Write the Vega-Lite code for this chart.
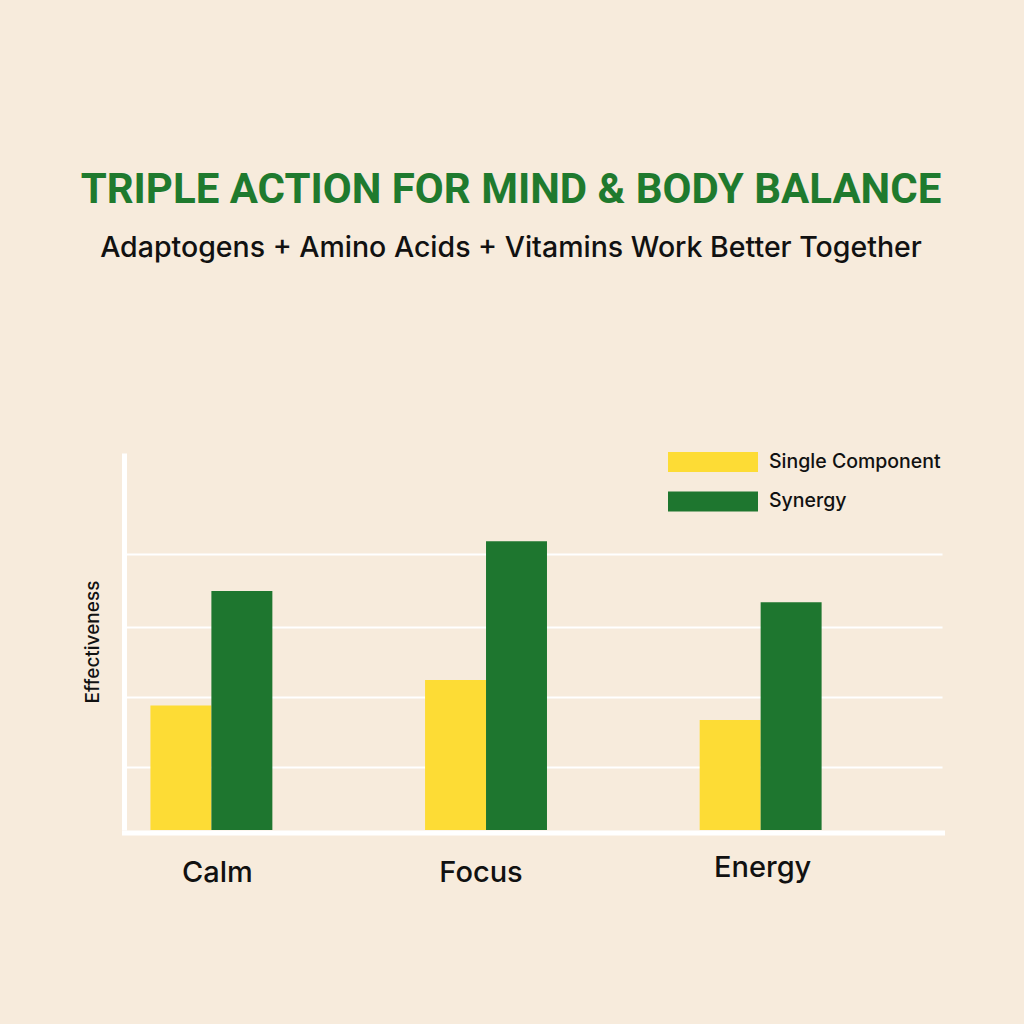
{
  "$schema": "https://vega.github.io/schema/vega-lite/v6.json",
  "width": 818,
  "height": 377,
  "autosize": {"type": "none"},
  "padding": {"left": 124, "top": 453, "right": 82, "bottom": 194},
  "background": "#F7EBDC",
  "title": {
    "text": "TRIPLE ACTION FOR MIND & BODY BALANCE",
    "subtitle": "Adaptogens + Amino Acids + Vitamins Work Better Together",
    "anchor": "middle",
    "frame": "group",
    "dx": -22,
    "offset": 189,
    "font": "Roboto",
    "fontSize": 42,
    "fontWeight": 700,
    "color": "#1F7A2E",
    "subtitleFont": "Inter",
    "subtitleFontSize": 28.5,
    "subtitleFontWeight": 500,
    "subtitleColor": "#111111",
    "subtitlePadding": 22
  },
  "data": {
    "values": [
      {"benefit": "Calm", "series": "Single Component", "value": 33.0},
      {"benefit": "Calm", "series": "Synergy", "value": 63.4},
      {"benefit": "Focus", "series": "Single Component", "value": 39.8},
      {"benefit": "Focus", "series": "Synergy", "value": 76.6},
      {"benefit": "Energy", "series": "Single Component", "value": 29.2},
      {"benefit": "Energy", "series": "Synergy", "value": 60.4}
    ]
  },
  "mark": {"type": "bar"},
  "encoding": {
    "x": {
      "field": "benefit",
      "type": "nominal",
      "sort": ["Calm", "Focus", "Energy"],
      "scale": {"paddingInner": 0.556, "paddingOuter": 0.2673, "align": 0.18},
      "axis": {
        "title": null,
        "domain": true,
        "domainColor": "#FFFFFF",
        "domainWidth": 5,
        "domainCap": "square",
        "offset": 2.5,
        "ticks": false,
        "tickSize": 0,
        "grid": false,
        "labelAngle": 0,
        "labelFont": "Inter",
        "labelFontSize": 29,
        "labelFontWeight": 500,
        "labelColor": "#111111",
        "labelBaseline": "alphabetic",
        "labelPadding": {"condition": {"test": "datum.value === 'Energy'", "value": 44}, "value": 49},
        "labelOffset": {
          "condition": [
            {"test": "datum.value === 'Calm'", "value": 6},
            {"test": "datum.value === 'Focus'", "value": -5}
          ],
          "value": 2
        }
      }
    },
    "xOffset": {
      "field": "series",
      "type": "nominal",
      "sort": ["Single Component", "Synergy"],
      "scale": {"paddingInner": 0, "paddingOuter": 0}
    },
    "y": {
      "field": "value",
      "type": "quantitative",
      "scale": {"domain": [0, 100], "nice": false},
      "axis": {
        "title": "Effectiveness",
        "titleFont": "Inter",
        "titleFontSize": 19,
        "titleFontWeight": 500,
        "titleColor": "#111111",
        "titlePadding": 22,
        "labels": false,
        "ticks": false,
        "tickSize": 0,
        "domain": true,
        "domainColor": "#FFFFFF",
        "domainWidth": 5,
        "grid": true,
        "gridColor": "#FFFFFF",
        "gridWidth": 2,
        "gridOpacity": 1,
        "values": [16.6, 35.4, 53.8, 73.3]
      }
    },
    "color": {
      "field": "series",
      "type": "nominal",
      "sort": ["Single Component", "Synergy"],
      "scale": {"domain": ["Single Component", "Synergy"], "range": ["#FDDC35", "#1E762F"]},
      "legend": {
        "title": null,
        "orient": "none",
        "legendX": 579,
        "legendY": -1,
        "padding": 0,
        "symbolType": "M-4.5,-1H4.5V1H-4.5Z",
        "symbolSize": 400,
        "symbolStrokeWidth": 0,
        "symbolOpacity": 1,
        "labelFont": "Inter",
        "labelFontSize": 19.5,
        "labelFontWeight": 500,
        "labelColor": "#111111",
        "labelOffset": 46,
        "labelLimit": 400,
        "rowPadding": 19.4
      }
    }
  },
  "config": {
    "view": {"stroke": null},
    "axis": {"domainOpacity": 1}
  }
}
